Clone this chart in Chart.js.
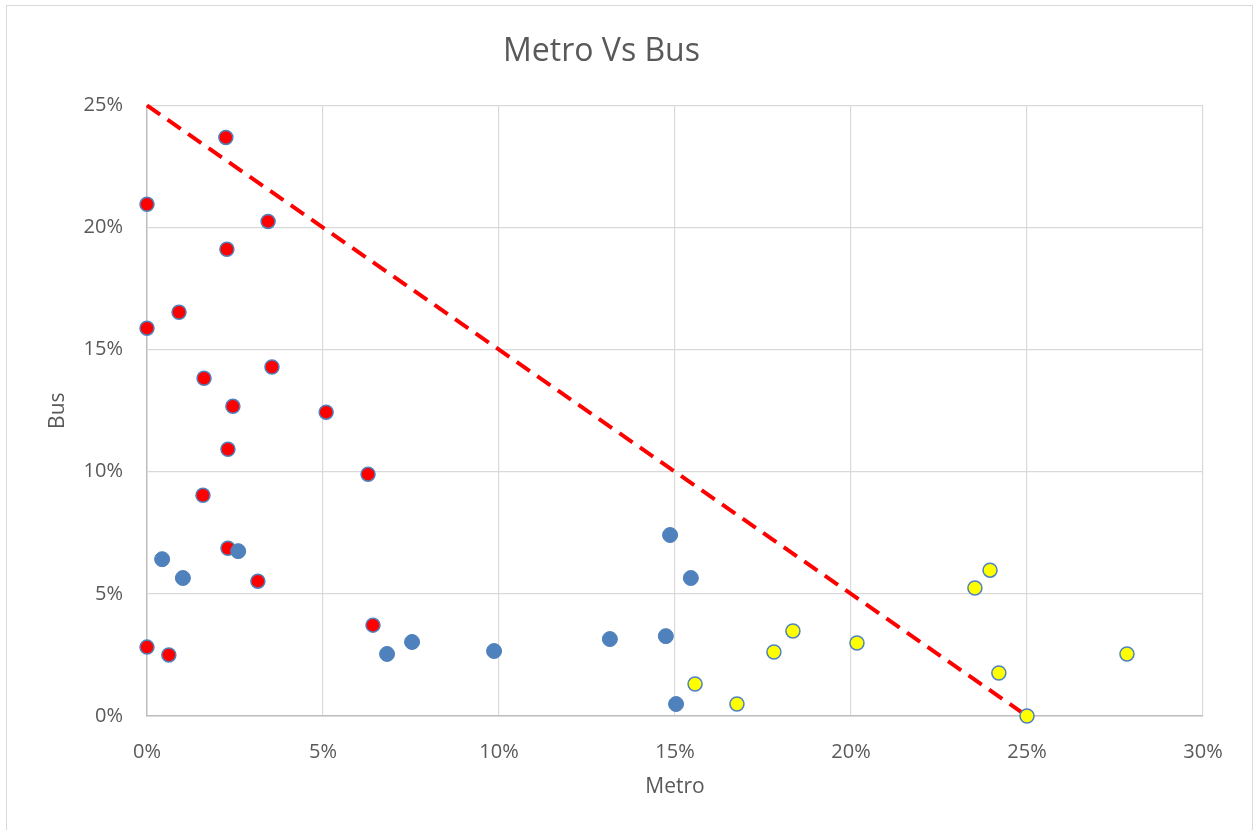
<!DOCTYPE html>
<html>
<head>
<meta charset="utf-8">
<script src="https://cdn.jsdelivr.net/npm/chart.js@4/dist/chart.umd.min.js"></script>
<style>
  html, body { margin: 0; padding: 0; background: #ffffff; }
  #wrap { position: relative; width: 1257px; height: 830px; overflow: hidden; }
</style>
</head>
<body>
<div id="wrap"><canvas id="c" width="1257" height="830"></canvas></div>
<script>
// ---- Data (percent values) ----
const chartTitle = "Metro Vs Bus";
const xAxisTitle = "Metro";
const yAxisTitle = "Bus";
const xTicks = [0, 5, 10, 15, 20, 25, 30];
const yTicks = [0, 5, 10, 15, 20, 25];

const redMetro = [2.24, 0.0, 3.44, 2.27, 0.91, 0.0, 1.62, 3.55, 2.44, 5.09, 2.30, 6.28, 1.59, 2.30, 3.15, 6.42, 0.0, 0.62];
const redBus   = [23.69, 20.95, 20.25, 19.11, 16.53, 15.88, 13.83, 14.29, 12.68, 12.44, 10.92, 9.90, 9.04, 6.87, 5.52, 3.72, 2.82, 2.50];

const blueMetro = [0.43, 1.02, 2.59, 6.82, 7.53, 9.86, 13.15, 14.74, 14.86, 15.45, 15.03];
const blueBus   = [6.42, 5.65, 6.75, 2.54, 3.03, 2.66, 3.15, 3.27, 7.41, 5.65, 0.49];

const yellowMetro = [15.57, 16.76, 17.81, 18.35, 20.17, 23.52, 23.95, 24.20, 25.0, 27.84];
const yellowBus   = [1.31, 0.49, 2.62, 3.48, 2.99, 5.24, 5.97, 1.76, 0.0, 2.54];

const thresholdMetro = [0, 25];
const thresholdBus   = [25, 0];

const pts = (xs, ys) => xs.map((x, i) => ({ x: x, y: ys[i] }));

const FONT = "'Open Sans', 'Noto Sans', sans-serif";
const GREY_TEXT = "#595959";

const frame = {
  id: 'frame',
  beforeDraw(chart) {
    const ctx = chart.ctx;
    ctx.save();
    ctx.fillStyle = '#ffffff';
    ctx.fillRect(0, 0, chart.width, chart.height);
    ctx.strokeStyle = '#d9d9d9';
    ctx.lineWidth = 1;
    ctx.strokeRect(6.5, 5.5, 1246, 830);
    ctx.restore();
  }
};

new Chart(document.getElementById('c'), {
  type: 'scatter',
  data: {
    datasets: [
      {
        label: 'High metro',
        data: pts(yellowMetro, yellowBus),
        backgroundColor: '#ffff00',
        borderColor: '#4f81bd',
        borderWidth: 1.5,
        pointRadius: 7,
        pointHoverRadius: 7,
        clip: false,
        order: 1
      },
      {
        label: 'Other',
        data: pts(blueMetro, blueBus),
        backgroundColor: '#4f81bd',
        borderColor: '#4f81bd',
        borderWidth: 1,
        pointRadius: 7.5,
        pointHoverRadius: 7.5,
        clip: false,
        order: 2
      },
      {
        label: 'High bus',
        data: pts(redMetro, redBus),
        backgroundColor: '#ff0000',
        borderColor: '#4f81bd',
        borderWidth: 1.5,
        pointRadius: 7,
        pointHoverRadius: 7,
        clip: false,
        order: 3
      },
      {
        type: 'line',
        label: 'Threshold',
        data: pts(thresholdMetro, thresholdBus),
        borderColor: '#ff0000',
        borderWidth: 4,
        borderDash: [16, 9],
        pointRadius: 0,
        fill: false,
        showLine: true,
        clip: false,
        order: 4
      }
    ]
  },
  options: {
    responsive: false,
    animation: false,
    devicePixelRatio: 1,
    layout: { padding: { left: 0, right: 54, top: 0, bottom: 0 } },
    plugins: {
      legend: { display: false },
      tooltip: { enabled: false },
      title: {
        display: true,
        text: chartTitle,
        color: GREY_TEXT,
        font: { family: FONT, size: 32, weight: 'normal' },
        padding: { top: 33, bottom: 34 }
      }
    },
    scales: {
      x: {
        type: 'linear',
        min: 0,
        max: 30,
        afterFit(scale) { scale.height = 114; },
        afterBuildTicks(scale) { scale.ticks = xTicks.map(v => ({ value: v })); },
        ticks: {
          color: GREY_TEXT,
          font: { family: FONT, size: 20 },
          padding: 24,
          callback: v => v + '%'
        },
        grid: { color: '#d9d9d9', lineWidth: 1.2, drawTicks: false },
        border: { color: '#bfbfbf', width: 1.5 },
        title: {
          display: true,
          text: xAxisTitle,
          color: GREY_TEXT,
          font: { family: FONT, size: 21 },
          padding: { top: 0, bottom: 30 }
        }
      },
      y: {
        type: 'linear',
        min: 0,
        max: 25,
        afterFit(scale) { scale.width = 147; },
        afterBuildTicks(scale) { scale.ticks = yTicks.map(v => ({ value: v })); },
        ticks: {
          color: GREY_TEXT,
          font: { family: FONT, size: 20 },
          padding: 24,
          callback: v => v + '%'
        },
        grid: { color: '#d9d9d9', lineWidth: 1.2, drawTicks: false },
        border: { color: '#bfbfbf', width: 1.5 },
        title: {
          display: true,
          text: yAxisTitle,
          color: GREY_TEXT,
          font: { family: FONT, size: 21 },
          padding: { top: 45, bottom: 0 }
        }
      }
    }
  },
  plugins: [frame]
});
</script>
</body>
</html>
